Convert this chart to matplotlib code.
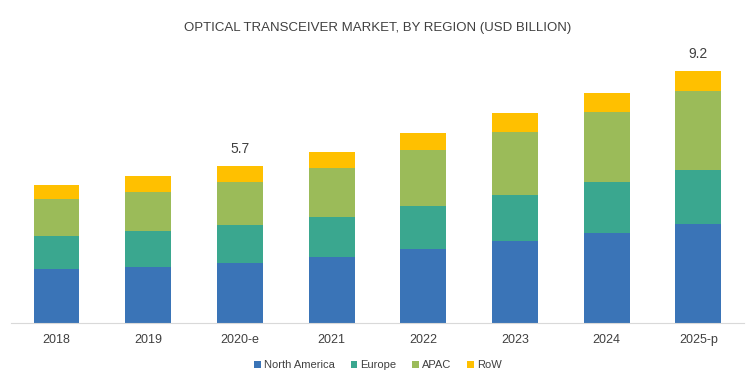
import matplotlib
matplotlib.use("Agg")
import matplotlib.pyplot as plt
import numpy as np

years = ["2018", "2019", "2020-e", "2021", "2022", "2023", "2024", "2025-p"]
north_america = [1.96, 2.05, 2.20, 2.42, 2.70, 2.99, 3.29, 3.60]
europe = [1.20, 1.32, 1.39, 1.46, 1.56, 1.67, 1.85, 1.98]
apac = [1.37, 1.42, 1.55, 1.76, 2.04, 2.31, 2.57, 2.89]
row = [0.50, 0.57, 0.59, 0.59, 0.62, 0.68, 0.69, 0.73]
annotations = {"2020-e": "5.7", "2025-p": "9.2"}

series = [("North America", north_america, "#3A74B7"),
          ("Europe", europe, "#3AA78F"),
          ("APAC", apac, "#9BBB59"),
          ("RoW", row, "#FFC000")]

plt.rcParams['font.family'] = ['Liberation Sans', 'DejaVu Sans']

fig = plt.figure(figsize=(7.5, 3.83), dpi=100)
ax = fig.add_axes([0.0143, 0.1567, 0.978, 0.7153])

x = np.arange(len(years))
bottom = np.zeros(len(years))
for name, vals, col in series:
    ax.bar(x, vals, width=0.5, bottom=bottom, color=col, label=name, edgecolor='none')
    bottom += np.array(vals)

for i, y in enumerate(years):
    if y in annotations:
        ax.text(x[i], bottom[i] + 0.38, annotations[y], ha='center', va='bottom',
                fontsize=10, color='#404040')

ax.set_xlim(-0.5, len(years) - 0.5)
ax.set_ylim(0, 10)
ax.set_xticks(x)
ax.set_xticklabels(years, fontsize=9, color='#404040')
ax.tick_params(axis='x', length=0, pad=8)
ax.set_yticks([])
for s in ['top', 'right', 'left']:
    ax.spines[s].set_visible(False)
ax.spines['bottom'].set_color('#D9D9D9')

fig.text(0.504, 0.927, "OPTICAL TRANSCEIVER MARKET, BY REGION (USD BILLION)",
         ha='center', va='center', fontsize=9.5, color='#404040')

leg = fig.legend(loc='center', bbox_to_anchor=(0.504, 0.047), ncol=4, frameon=False,
                 fontsize=8, handlelength=0.6, handleheight=0.6, handletextpad=0.3,
                 columnspacing=1.4)
for t in leg.get_texts():
    t.set_color('#404040')

fig.savefig("out.png", dpi=100)
